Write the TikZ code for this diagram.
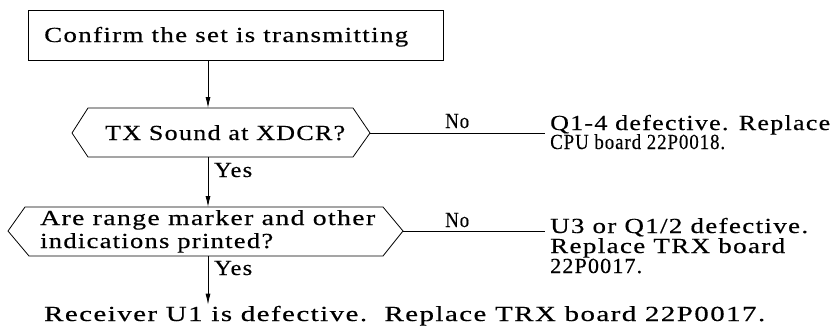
\documentclass[tikz,border=0pt]{standalone}
\usepackage{graphicx}
\usepackage{fontspec}
\usetikzlibrary{arrows.meta}
\newfontfamily\twfont[LetterSpace=5,FakeBold=0.4]{Liberation Serif}
\newlength\fwl
\newcommand{\fw}[2]{\settowidth{\fwl}{#2}\scalebox{\fpeval{#1/\fwl}}[1]{#2}}
\tikzset{
  txt/.style={inner sep=0pt, anchor=base west, font=\twfont\fontsize{21.5}{22}\selectfont},
  ln/.style={line width=0.8pt, black},
  arr/.style={ln, -{Latex[length=11pt,width=5pt]}},
}
\begin{document}
\begin{tikzpicture}[x=1pt,y=-1pt]
\useasboundingbox[fill=white] (0,0) rectangle (834,329);

% start box
\node[ln, draw, minimum width=415pt, minimum height=50pt, inner sep=0pt, anchor=north west] (start) at (28,10) {};
\node[txt] (starttxt) at (44,42) {\fw{364}{Confirm the set is transmitting}};

% decision 1
\coordinate (h1t) at (208,108);
\coordinate (h1b) at (208,157);
\coordinate (h1l) at (72,133);
\coordinate (h1r) at (370,133);
\draw[ln] (88,108) -- (353,108) -- (h1r) -- (353,157) -- (88,157) -- (h1l) -- cycle;
\node[txt] (q1) at (105,140) {\fw{240}{TX Sound at XDCR?}};

% decision 2
\coordinate (h2t) at (208,207);
\coordinate (h2b) at (208,256);
\coordinate (h2l) at (8,231);
\coordinate (h2r) at (403,231);
\draw[ln] (25,207) -- (383,207) -- (h2r) -- (383,256) -- (29,256) -- (h2l) -- cycle;
\node[txt] (q2a) at (40,225) {\fw{335}{Are range marker and other}};
\node[txt] (q2b) at (40,248) {\fw{233}{indications printed?}};

% result texts
\node[txt] (r1a) at (550,130) {\fw{280}{Q1-4 defective. Replace}};
\node[txt] (r1b) at (550,149) {\fw{175}{CPU board 22P0018.}};
\node[txt] (r2a) at (550,233) {\fw{258}{U3 or Q1/2 defective.}};
\node[txt] (r2b) at (550,253) {\fw{235}{Replace TRX board}};
\node[txt] (r2c) at (550,273) {\fw{92}{22P0017.}};
\node[txt] (rcv) at (44,321) {\fw{721}{Receiver U1 is defective.\ \ Replace TRX board 22P0017.}};

% connectors
\draw[arr] (start.south -| h1t) -- (h1t);
\draw[arr] (h1b) -- (h2t);
\coordinate (e3) at (h2b |- rcv.north);
\draw[arr] (h2b) -- ([yshift=1pt]e3);
\coordinate (n1) at (545,133);
\coordinate (n2) at (545,231);
\draw[ln] (h1r) -- (n1);
\draw[ln] (h2r) -- (n2);

% labels
\node[txt] (yes1) at (214,177) {\fw{38}{Yes}};
\node[txt] (yes2) at (214,275) {\fw{38}{Yes}};
\node[txt] (no1) at (445,128) {\fw{24}{No}};
\node[txt] (no2) at (445,227) {\fw{24}{No}};
\end{tikzpicture}
\end{document}
